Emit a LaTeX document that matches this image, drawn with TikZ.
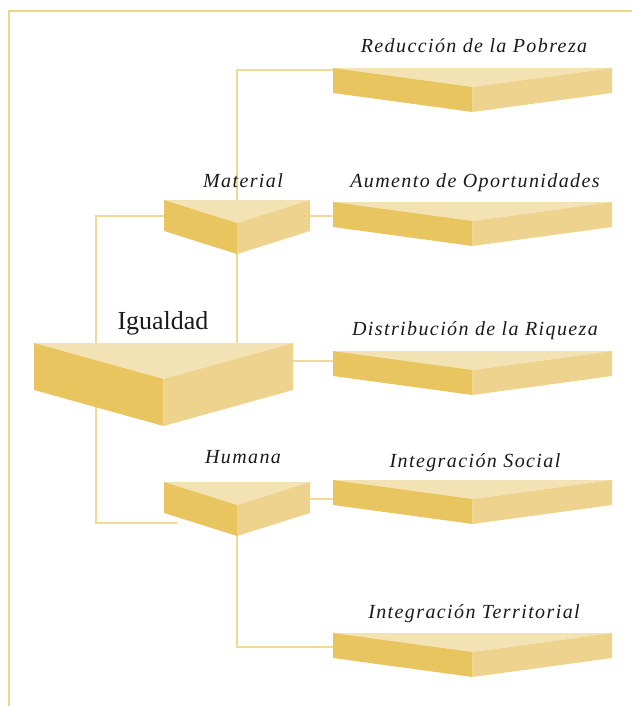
\documentclass[tikz,border=0pt]{standalone}
\usepackage{fontspec}
\setmainfont{Liberation Serif}
\newfontfamily\labelfont[LetterSpace=7]{Liberation Serif}
\usetikzlibrary{positioning,calc}

\definecolor{facetop}{HTML}{F3E3B4}
\definecolor{faceleft}{HTML}{E8C55F}
\definecolor{faceright}{HTML}{EDD38D}
\definecolor{linkcol}{HTML}{F1DA98}
\definecolor{framecol}{HTML}{EFD48C}
\definecolor{inkcol}{HTML}{1A1A1A}

\pgfdeclarelayer{background}
\pgfsetlayers{background,main}

% prism: name, left x, top y, width, depth of top face, side height
\newcommand\prism[6]{%
  \coordinate (#1-nw) at (#2,#3);
  \coordinate (#1-ne) at ($(#1-nw)+(#4,0)$);
  \coordinate (#1-c) at ($(#1-nw)+(#4/2,#5)$);
  \coordinate (#1-sw) at ($(#1-nw)+(0,#6)$);
  \coordinate (#1-se) at ($(#1-ne)+(0,#6)$);
  \coordinate (#1-s) at ($(#1-c)+(0,#6)$);
  \fill[facetop] (#1-nw) -- (#1-ne) -- (#1-c) -- cycle;
  \fill[faceleft] (#1-nw) -- (#1-c) -- (#1-s) -- (#1-sw) -- cycle;
  \fill[faceright] (#1-ne) -- (#1-c) -- (#1-s) -- (#1-se) -- cycle;
}

\begin{document}
\begin{tikzpicture}[x=1pt,y=-1pt,
    link/.style={draw=linkcol, line width=1.2pt},
    frame/.style={draw=framecol, line width=1.5pt},
    lbl/.style={anchor=base, text=inkcol, font=\labelfont\itshape\fontsize{20}{24}\selectfont},
    title/.style={anchor=base, text=inkcol, font=\fontsize{26}{30}\selectfont}]
    \useasboundingbox (0,0) rectangle (632,706);

    \draw[frame] (9,706) -- (9,11) -- (632,11);

    % the prisms
    \prism{igu}{34}{343}{259}{36}{47}
    \prism{mat}{164}{200}{146}{23}{31}
    \prism{hum}{164}{482}{146}{23}{31}
    \prism{red}{333}{68}{279}{19}{25}
    \prism{aum}{333}{202}{279}{19}{25}
    \prism{dis}{333}{351}{279}{19}{25}
    \prism{soc}{333}{480}{279}{19}{25}
    \prism{ter}{333}{633}{279}{19}{25}

    \coordinate (spine) at (96,400);
    \coordinate (hum-tail) at (177,523);

    % connectors
    \begin{pgfonlayer}{background}
        \draw[link] ($(red-nw)+(0,2)$) -| (mat-c |- igu-nw);
        \draw[link] ($(mat-nw)+(0,16)$) -| (spine) |- (hum-tail);
        \draw[link] ($(mat-ne)+(0,16)$) -- ($(aum-nw)+(0,14)$);
        \draw[link] ($(igu-ne)+(0,18)$) -- ($(dis-nw)+(0,10)$);
        \draw[link] ($(hum-ne)+(0,17)$) -- ($(soc-nw)+(0,19)$);
        \draw[link] (hum-s) |- ($(ter-nw)+(0,14)$);
    \end{pgfonlayer}

    % labels
    \node[title] (igulbl) at (163,329) {Igualdad};
    \node[lbl] (matlbl) at (243,187) {Material};
    \node[lbl] (humlbl) at (243,463) {Humana};
    \node[lbl] (redlbl) at (474,53) {Reducción de la Pobreza};
    \node[lbl] (aumlbl) at (475,187) {Aumento de Oportunidades};
    \node[lbl] (dislbl) at (475,335) {Distribución de la Riqueza};
    \node[lbl] (soclbl) at (475,467) {Integración Social};
    \node[lbl] (terlbl) at (474,618) {Integración Territorial};
\end{tikzpicture}
\end{document}
